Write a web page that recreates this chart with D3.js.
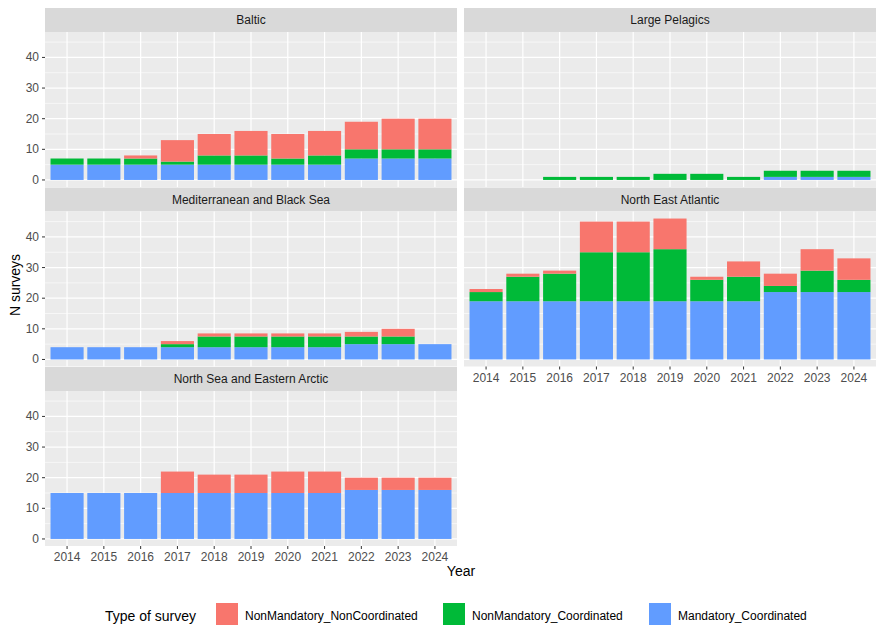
<!DOCTYPE html>
<html><head><meta charset="utf-8">
<script src="https://cdn.jsdelivr.net/npm/d3@7"></script>
<style>body{margin:0;background:#fff}text{font-family:Arial,"Liberation Sans",sans-serif}</style>
</head><body>
<svg id="c" width="886" height="636"></svg>
<script>
var years = [2014,2015,2016,2017,2018,2019,2020,2021,2022,2023,2024];
var regions = ["Baltic","Large Pelagics","Mediterranean and Black Sea","North East Atlantic","North Sea and Eastern Arctic"];
var types = ["NonMandatory_NonCoordinated","NonMandatory_Coordinated","Mandatory_Coordinated"];
var colors = ["#F8766D","#00BA38","#619CFF"];
// values per region per year
var mandatory = {
  "Baltic": [5,5,5,5,5,5,5,5,7,7,7],
  "Large Pelagics": [0,0,0,0,0,0,0,0,1,1,1],
  "Mediterranean and Black Sea": [4,4,4,4,4,4,4,4,5,5,5],
  "North East Atlantic": [19,19,19,19,19,19,19,19,22,22,22],
  "North Sea and Eastern Arctic": [15,15,15,15,15,15,15,15,16,16,16]
};
var nmCoord = {
  "Baltic": [2,2,2,1,3,3,2,3,3,3,3],
  "Large Pelagics": [0,0,1,1,1,2,2,1,2,2,2],
  "Mediterranean and Black Sea": [0,0,0,1,3.5,3.5,3.5,3.5,2.5,2.5,0],
  "North East Atlantic": [3,8,9,16,16,17,7,8,2,7,4],
  "North Sea and Eastern Arctic": [0,0,0,0,0,0,0,0,0,0,0]
};
var nmNonCoord = {
  "Baltic": [0,0,1,7,7,8,8,8,9,10,10],
  "Large Pelagics": [0,0,0,0,0,0,0,0,0,0,0],
  "Mediterranean and Black Sea": [0,0,0,1,1,1,1,1,1.5,2.5,0],
  "North East Atlantic": [1,1,1,10,10,10,1,5,4,7,7],
  "North Sea and Eastern Arctic": [0,0,0,7,6,6,7,7,4,4,4]
};
var yTicks = [0,10,20,30,40];

var svg = d3.select("#c");
var colX = [45,464], pw = 412, stripH = 24, ph = 155;
var y = d3.scaleLinear().domain([-2.3,48.3]).range([ph,0]);
var x = d3.scaleLinear().domain([0.4,11.6]).range([0,pw]);
var bw = (x(1.45)-x(0.55));

regions.forEach(function(r,i){
  var col = i%2, row = Math.floor(i/2);
  var g = svg.append("g").attr("transform","translate("+colX[col]+","+(8+row*179.5)+")");
  g.append("rect").attr("width",pw).attr("height",stripH).attr("fill","#D9D9D9");
  g.append("text").attr("x",pw/2).attr("y",16).attr("text-anchor","middle").attr("font-size",12).attr("fill","#1A1A1A").text(r);
  var p = g.append("g").attr("transform","translate(0,"+stripH+")");
  p.append("rect").attr("width",pw).attr("height",ph).attr("fill","#EBEBEB");
  [5,15,25,35,45].forEach(function(t){p.append("line").attr("x1",0).attr("x2",pw).attr("y1",y(t)).attr("y2",y(t)).attr("stroke","#fff").attr("stroke-width",0.6);});
  yTicks.forEach(function(t){p.append("line").attr("x1",0).attr("x2",pw).attr("y1",y(t)).attr("y2",y(t)).attr("stroke","#fff").attr("stroke-width",1.2);});
  years.forEach(function(yr,j){p.append("line").attr("x1",x(j+1)).attr("x2",x(j+1)).attr("y1",0).attr("y2",ph).attr("stroke","#fff").attr("stroke-width",1.2);});
  years.forEach(function(yr,j){
    var stack = [mandatory[r][j], nmCoord[r][j], nmNonCoord[r][j]];
    var base = 0;
    [2,1,0].forEach(function(k,idx){
      var v = stack[idx];
      if(v>0) p.append("rect").attr("x",x(j+1)-bw/2).attr("width",bw)
        .attr("y",y(base+v)).attr("height",y(base)-y(base+v)).attr("fill",colors[k]);
      base += v;
    });
  });
  if(col===0){
    yTicks.forEach(function(t){
      p.append("line").attr("x1",-3).attr("x2",0).attr("y1",y(t)).attr("y2",y(t)).attr("stroke","#333");
      p.append("text").attr("x",-6).attr("y",y(t)+4).attr("text-anchor","end").attr("font-size",12).attr("fill","#4D4D4D").text(t);
    });
  }
  if(i>=3){
    years.forEach(function(yr,j){
      p.append("line").attr("x1",x(j+1)).attr("x2",x(j+1)).attr("y1",ph).attr("y2",ph+3).attr("stroke","#333");
      p.append("text").attr("x",x(j+1)).attr("y",ph+15).attr("text-anchor","middle").attr("font-size",12).attr("fill","#4D4D4D").text(yr);
    });
  }
});

svg.append("text").attr("transform","translate(20,285) rotate(-90)").attr("text-anchor","middle").attr("font-size",14).text("N surveys");
svg.append("text").attr("x",461).attr("y",576).attr("text-anchor","middle").attr("font-size",14).text("Year");

var lg = svg.append("g");
lg.append("text").attr("x",105).attr("y",621).attr("font-size",14).text("Type of survey");
var lx = [216,443,649];
types.forEach(function(t,k){
  lg.append("rect").attr("x",lx[k]).attr("y",603).attr("width",22).attr("height",22).attr("fill",colors[k]);
  lg.append("text").attr("x",lx[k]+29).attr("y",620).attr("font-size",12).text(t);
});
</script>
</body></html>
